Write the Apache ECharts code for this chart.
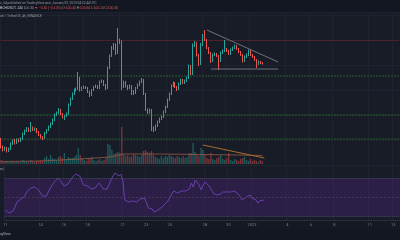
<!DOCTYPE html>
<html><head><meta charset="utf-8">
<script src="https://cdn.jsdelivr.net/npm/echarts@6/dist/echarts.min.js"></script>
<style>html,body{margin:0;padding:0;background:#181c27}#c{width:400px;height:240px}</style>
</head><body><div id="c"></div><script>
// ---- DATA ----
// 4h candles: [open, close, low, high]
const candles = [
[85.0,83.6,83.3,85.4],[83.6,83.0,82.7,83.9],[83.0,83.4,82.8,83.7],[83.4,82.8,82.5,83.6],[82.8,83.2,82.6,83.5],
[83.2,84.2,83.0,84.5],[84.2,84.8,84.0,85.1],[84.8,84.4,84.1,85.2],[84.4,85.0,84.2,85.3],[85.0,84.8,84.5,85.3],
[84.8,85.2,84.6,85.5],[85.2,86.2,85.0,86.5],[86.2,86.8,86.0,87.1],[86.8,87.2,86.6,87.6],[87.2,86.8,86.6,87.5],
[86.8,87.4,86.6,88.6],[87.4,87.0,86.8,87.7],[87.0,87.2,86.8,87.5],[87.2,86.6,86.4,87.4],[86.6,86.0,85.8,86.8],
[86.0,85.6,85.3,86.2],[85.6,85.4,85.0,85.8],[85.4,86.4,85.2,86.6],[86.4,87.0,86.2,87.2],[87.0,87.6,86.8,87.9],
[87.6,88.2,87.4,88.5],[88.2,89.0,88.0,89.3],[89.0,90.0,88.8,90.3],[90.0,90.4,89.8,90.7],[90.4,91.0,90.2,91.4],
[91.0,90.2,90.0,91.2],[90.2,89.6,89.3,90.4],[89.6,89.8,89.0,90.0],[89.8,90.2,89.6,90.5],[90.2,92.0,90.0,92.3],
[92.0,93.2,91.8,93.5],[93.2,94.2,93.0,94.5],[94.2,95.0,94.0,95.3],[95.0,95.2,94.7,95.5],[95.2,97.4,95.0,98.6],
[97.4,95.0,94.7,97.6],[95.0,95.4,94.8,95.7],[95.4,95.6,95.2,95.9],[95.6,95.4,95.2,95.8],[95.4,94.6,94.4,95.6],
[94.6,94.0,93.6,94.8],[94.0,95.0,93.8,95.2],[95.0,95.6,94.8,95.8],[95.6,95.8,95.4,96.1],[95.8,95.4,95.2,96.0],
[95.4,96.6,95.2,96.9],[96.6,96.8,96.4,97.1],[96.8,96.0,95.8,97.0],[96.0,95.4,95.0,96.2],[95.4,99.4,95.2,99.7],
[99.4,101.8,99.2,102.1],[101.8,103.4,101.6,103.8],[103.4,104.0,103.0,104.4],[104.0,102.4,102.0,104.3],[102.4,104.8,102.2,107.4],
[104.8,104.6,104.2,105.3],[104.6,95.8,95.0,104.9],[95.8,96.6,95.4,96.9],[96.6,95.8,95.5,96.8],[95.8,95.4,95.0,96.0],
[95.4,95.8,95.2,96.1],[95.8,94.8,94.0,96.0],[94.8,94.4,94.0,95.0],[94.4,95.4,94.2,95.6],[95.4,96.0,95.2,96.3],
[96.0,96.6,95.8,96.9],[96.6,97.0,96.4,97.4],[97.0,94.2,94.0,97.2],[94.2,91.0,90.8,94.4],[91.0,90.6,90.2,91.3],
[90.6,91.0,90.3,91.3],[91.0,87.4,86.8,91.2],[87.4,87.0,86.6,87.7],[87.0,87.8,86.8,88.1],[87.8,88.6,87.6,88.9],
[88.6,89.2,88.4,89.5],[89.2,89.6,89.0,89.9],[89.6,90.6,89.4,90.9],[90.6,91.6,90.4,91.9],[91.6,93.0,91.4,93.3],
[93.0,94.2,92.8,94.5],[94.2,95.8,94.0,96.1],[95.8,96.4,95.6,96.7],[96.4,95.6,95.4,96.6],[95.6,95.2,94.8,95.8],
[95.2,96.2,95.0,96.5],[96.2,97.0,96.0,97.3],[97.0,96.4,96.2,97.2],[96.4,96.8,96.2,97.1],[96.8,97.4,96.6,97.7],
[97.4,99.8,97.2,100.1],[99.8,98.2,98.0,100.0],[98.2,104.0,98.0,104.3],[104.0,104.4,103.6,104.8],[104.4,102.0,101.7,104.6],
[102.0,100.2,99.8,102.2],[100.2,104.0,100.0,104.4],[104.0,105.8,103.8,106.2],[105.8,105.0,104.8,107.0],[105.0,103.4,103.2,105.2],
[103.4,102.4,102.2,103.6],[102.4,100.8,100.4,102.6],[100.8,102.0,100.6,102.3],[102.0,102.2,101.8,102.5],[102.2,101.8,101.6,102.4],
[101.8,100.8,99.0,102.0],[100.8,102.4,100.6,102.7],[102.4,102.8,102.2,103.1],[102.8,103.2,102.6,105.0],[103.2,102.8,102.6,103.4],
[102.8,102.2,102.0,103.0],[102.2,103.0,102.0,103.3],[103.0,103.4,102.8,103.7],[103.4,103.8,103.2,104.1],[103.8,103.2,103.0,104.0],
[103.2,102.6,102.4,103.4],[102.6,102.0,101.8,102.8],[102.0,100.8,100.5,102.2],[100.8,101.6,100.6,101.9],[101.6,102.0,101.4,102.3],
[102.0,102.8,101.8,103.1],[102.8,102.0,101.8,103.0],[102.0,101.6,101.4,102.2],[101.6,101.0,100.8,101.8],[101.0,100.2,99.4,101.2],
[100.2,100.6,100.0,100.9],[100.6,100.4,100.2,100.8],[100.4,100.3,100.1,100.6]
];
// volume (thousands)
const volumes = [
4,3,2,3,2,3,3,2,3,2,2,4,3,3,2,4,3,2,3,3,4,
3,6,8,5,9, 6,5,4,7, 8,6,11,5,7,6, 6,7,9, 16,9,
6,4,3,5,6,7,4,3,4,5,3,4,6,
20,19,14,10,11,12,11,37,
10,8,9,7,8,10,9,8,7,
9,13,14,12,11,13,
9,7,6,5,8,6,
8,7,9,8,7,6,8,
7,6,8,6,7,
11,11,21,12,9,8,16,14,9,
6,5,11,
5,4,6,7,9,5,4,6,
11,
4,3,5,4,3,5,6,
7,
4,3,5,3,4,3,2,4,3
];
// volume moving average, read at a few candles: [candle index, value]
const volumeMA = [[0,2.5],[20,3],[40,5],[55,7],[62,10],[80,10],[100,9.5],[120,9],[132,8.5]];
// RSI(14)
const rsi = [
36.6,35.5,33.4,34.4,35.5,39.7,45.0,46.1,48.2,49.2,
51.3,55.6,57.7,59.8,59.8,60.8,58.7,57.7,54.5,51.3,
49.2,51.3,55.6,59.8,62.9,66.1,68.2,70.3,68.2,65.1,
61.9,60.8,64.0,67.2,70.3,72.4,74.6,76.7,72.4,72.4,
62.9,62.9,61.9,60.8,58.7,57.7,59.8,62.9,65.1,61.9,
58.7,59.8,58.7,60.8,68.2,72.4,75.6,76.7,72.4,74.6,
68.2,47.1,46.1,45.0,45.0,46.1,47.1,45.0,46.1,48.2,
50.3,49.2,45.0,38.7,36.6,37.6,34.4,34.4,36.6,37.6,
39.7,41.8,43.9,46.1,49.2,53.4,56.6,56.6,54.5,53.4,
56.6,58.7,56.6,55.6,58.7,65.1,60.8,68.2,70.3,62.9,
57.7,62.9,66.1,65.1,61.9,58.7,54.5,53.4,52.4,54.5,
53.4,55.6,56.6,55.6,54.5,55.6,57.7,56.6,55.6,53.4,
51.3,47.1,49.2,50.3,51.3,52.4,49.2,48.2,47.1,43.9,
46.1,47.1,47.1
];
const startDate = Date.UTC(2022, 11, 11, 0, 0);
const slotCount = 202;
const tickLabels = [
['2022-12-11','11'],['2022-12-14','14'],['2022-12-16','16'],['2022-12-18','18'],['2022-12-21','21'],
['2022-12-23','23'],['2022-12-25','25'],['2022-12-28','28'],['2022-12-30','30'],['2023-01-01','2023'],
['2023-01-04','4'],['2023-01-06','6'],['2023-01-08','8'],['2023-01-11','11'],['2023-01-13','13']
];
const resistanceLevel = 104.9;
const supportLevels = [97.8, 90.0, 85.2];
const triangleTop = [[104, 107.0], [140, 100.6]];
const triangleBase = [[106, 99.2], [140, 99.2]];
const volumeTrend = [[102, 19], [133, 6]];

// ---- BUILD ----
const pad = n => (n < 10 ? '0' : '') + n;
const cats = [];
for (let i = 0; i < slotCount; i++) {
  const d = new Date(startDate + i * 4 * 3600 * 1000);
  cats.push(d.getUTCFullYear() + '-' + pad(d.getUTCMonth() + 1) + '-' + pad(d.getUTCDate()) + ' ' + pad(d.getUTCHours()) + ':00');
}
const labelMap = {};
tickLabels.forEach(t => { labelMap[t[0] + ' 00:00'] = t[1]; });
const isTick = (i, v) => labelMap[v] !== undefined;

const UP = '#26a69a', DOWN = '#ef5350';
const volData = volumes.map((v, i) => ({
  value: v,
  itemStyle: { color: candles[i][1] >= candles[i][0] ? 'rgba(38,166,154,0.45)' : 'rgba(239,83,80,0.45)' }
}));

const levelSeries = (v, style) => ({
  type: 'line', xAxisIndex: 0, yAxisIndex: 0, data: [[0, v], [slotCount - 1, v]], symbol: 'none', z: 2,
  silent: true, lineStyle: style
});

const gridLine = '#1f2330';
const greenLine = { color: '#285e33', width: 1, type: [2, 1] };
const greyLine = { color: '#6f727c', width: 1, type: 'solid' };
const chart = echarts.init(document.getElementById('c'), null, { renderer: 'canvas' });
chart.setOption({
  animation: false,
  backgroundColor: '#181c27',
  grid: [
    { left: 0, right: 0, top: 12, height: 153 },
    { left: 0, right: 0, top: 121, height: 43 },
    { left: 0, right: 0, top: 166, height: 54 }
  ],
  xAxis: [
    { type: 'category', gridIndex: 0, data: cats, axisLine: { show: false }, axisTick: { show: false }, axisLabel: { show: false },
      splitLine: { show: true, interval: isTick, lineStyle: { color: gridLine, width: 1 } } },
    { type: 'category', gridIndex: 1, data: cats, show: false },
    { type: 'category', gridIndex: 2, data: cats, axisLine: { show: true, lineStyle: { color: '#2a2e39' } }, axisTick: { show: false },
      splitLine: { show: true, interval: isTick, lineStyle: { color: gridLine, width: 1 } },
      axisLabel: { interval: isTick, formatter: v => labelMap[v] || '', color: '#787b86', fontSize: 4, margin: 3, fontFamily: 'Roboto' } }
  ],
  yAxis: [
    { type: 'value', gridIndex: 0, min: 80, max: 110.6, interval: 5, axisLine: { show: false }, axisTick: { show: false }, axisLabel: { show: false },
      splitLine: { show: true, lineStyle: { color: gridLine } } },
    { type: 'value', gridIndex: 1, min: 0, max: 43, show: false },
    { type: 'value', gridIndex: 2, min: 26, max: 83, show: false }
  ],
  series: [
    { type: 'bar', xAxisIndex: 1, yAxisIndex: 1, data: volData, barWidth: '70%', z: 1 },
    { type: 'line', xAxisIndex: 1, yAxisIndex: 1, data: volumeMA, symbol: 'none', connectNulls: true, z: 2,
      lineStyle: { color: '#9a5a48', width: 1, opacity: 0.8 } },
    { type: 'line', xAxisIndex: 1, yAxisIndex: 1, data: volumeTrend, symbol: 'none', z: 2,
      lineStyle: { color: '#a86d2c', width: 1 } },
    levelSeries(resistanceLevel, { color: '#4f222b', width: 1, type: 'solid' }),
    ...supportLevels.map(v => levelSeries(v, greenLine)),
    { type: 'line', xAxisIndex: 0, yAxisIndex: 0, data: triangleTop, symbol: 'none', z: 4, lineStyle: greyLine },
    { type: 'line', xAxisIndex: 0, yAxisIndex: 0, data: triangleBase, symbol: 'none', z: 4, lineStyle: greyLine },
    { type: 'candlestick', xAxisIndex: 0, yAxisIndex: 0, data: candles, barWidth: 1, z: 3,
      itemStyle: { color: UP, color0: DOWN, borderColor: UP, borderColor0: DOWN, borderWidth: 1 } },
    { type: 'line', xAxisIndex: 2, yAxisIndex: 2, data: rsi, symbol: 'none', z: 3,
      lineStyle: { color: '#6a3fae', width: 1 },
      markArea: { silent: true, itemStyle: { color: 'rgba(100,40,170,0.25)' }, data: [[{ yAxis: 70 }, { yAxis: 30 }]] },
      markLine: { silent: true, symbol: 'none', label: { show: false },
        data: [
          { yAxis: 70, lineStyle: { color: '#4e4862', width: 1, type: [1, 1] } },
          { yAxis: 50, lineStyle: { color: '#4f3853', width: 1, type: [2, 2] } },
          { yAxis: 30, lineStyle: { color: '#4e4862', width: 1, type: [1, 1] } }
        ] } }
  ],
  graphic: [
    { type: 'rect', z: -1, silent: true, shape: { x: 0, y: 0, width: 400, height: 12 }, style: { fill: '#131722' } },
    { type: 'rect', z: -1, silent: true, shape: { x: 0, y: 12, width: 400, height: 1 }, style: { fill: '#232734' } },
    { type: 'rect', z: -1, silent: true, shape: { x: 0, y: 165, width: 400, height: 1 }, style: { fill: '#232734' } },
    { type: 'rect', z: -1, silent: true, shape: { x: 0, y: 220, width: 400, height: 20 }, style: { fill: '#151924' } },
    { type: 'rect', z: -1, silent: true, shape: { x: 0, y: 229, width: 400, height: 11 }, style: { fill: '#131722' } },
    { type: 'text', z: 100, silent: true, x: 0, y: 1.5, style: { text: 'n_54 published on TradingView.com, January 03, 2023 04:32:44 UTC', fill: '#9598a1', fontSize: 3.2, fontFamily: 'Roboto' } },
    { type: 'text', z: 100, silent: true, x: 0, y: 6.5, style: {
        text: '{w|BCHUSDT, 240} {g|100.30} {r|▼ −0.10 (−0.10%)} {g|O:}{r|100.40} {g|H:}{r|100.60} {g|L:}{r|100.10} {g|C:}{r|100.30}',
        fontSize: 3.3, fontFamily: 'Roboto',
        rich: { w: { fill: '#d1d4dc', fontSize: 3.3 }, g: { fill: '#9598a1', fontSize: 3.3 }, r: { fill: '#ef5350', fontSize: 3.3 } } } },
    { type: 'text', z: 100, silent: true, x: -15, y: 14.5, style: { text: 'Bitcoin Cash / TetherUS, 4h, BINANCE', fill: '#9598a1', fontSize: 3.4, fontFamily: 'Roboto' } },
    { type: 'text', z: 100, silent: true, x: -17, y: 167.5, style: { text: 'RSI (14, close)', fill: '#9598a1', fontSize: 3.3, fontFamily: 'Roboto' } },
    { type: 'text', z: 100, silent: true, x: -9, y: 232.5, style: { text: 'TradingView', fill: '#b2b5be', fontSize: 3.6, fontFamily: 'Roboto' } }
  ]
});
</script></body></html>
